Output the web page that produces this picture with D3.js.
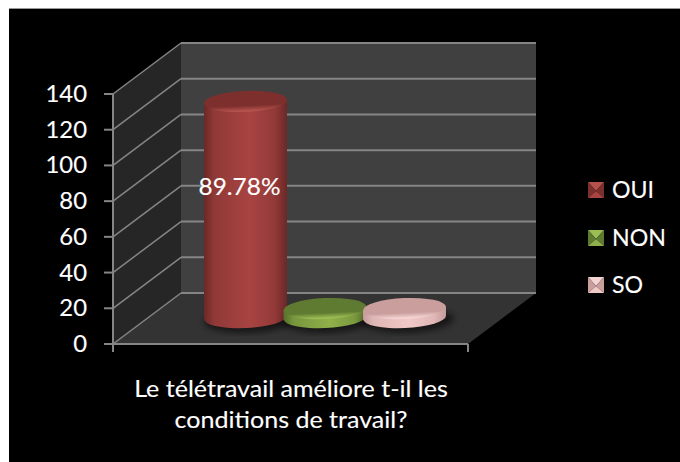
<!DOCTYPE html>
<html><head><meta charset="utf-8">
<style>html,body{margin:0;padding:0;background:#fff}svg{display:block}text{font-family:Lato,"Open Sans",sans-serif;fill:#fff;stroke:#fff;stroke-width:.12}</style>
<script src="https://cdn.jsdelivr.net/npm/d3@7"></script>
</head><body><svg id="c" width="680" height="462"></svg>
<script>
const categories = ["OUI", "NON", "SO"];
const values = [121, 5, 5];
const yTicks = [0, 20, 40, 60, 80, 100, 120, 140];
const barLabel = "89.78%";
const titleLines = ["Le télétravail améliore t-il les", "conditions de travail?"];
const palette = {OUI:{dark:"#6b2826",mid:"#a84442",top:"#7d2f2d",rim:"#b5524e"},
                 NON:{dark:"#55702a",mid:"#8fb04a",top:"#5f7a31",rim:"#9cbd55"},
                 SO:{dark:"#c49a9a",mid:"#f0c8c6",top:"#c99e9c",rim:"#f4d4d2"}};
const legendY = {OUI:190, NON:238, SO:285};

const svg = d3.select("#c");
const defs = svg.append("defs");
const label = (tx,ty,str,size,sx,anchor)=>svg.append("text")
  .attr("transform",`translate(${tx},${ty}) scale(${sx},1)`)
  .attr("text-anchor",anchor).attr("font-size",size).text(str);

svg.append("rect").attr("x",9).attr("y",8).attr("width",671).attr("height",454).attr("fill","#000");
svg.append("line").attr("x1",9).attr("x2",680).attr("y1",8.5).attr("y2",8.5).attr("stroke","#999");

const y = d3.scaleLinear().domain([0,140]).range([344,94]);
const front = d3.scaleLinear().domain([0,1]).range([113,468]);
const dx = 68, dy = -51;
const L = front(0), R = front(1), B = y(0), T = y(140);
const poly = (pts,fill)=>svg.append("polygon").attr("points",pts.map(p=>p.join(",")).join(" ")).attr("fill",fill);
poly([[L+dx,T+dy],[R+dx,T+dy],[R+dx,B+dy],[L+dx,B+dy]],"#404040");
poly([[L,T],[L+dx,T+dy],[L+dx,B+dy],[L,B]],"#262626");
poly([[L,B],[L+dx,B+dy],[R+dx,B+dy],[R,B]],"#333333");

const grid = "#858585";
yTicks.forEach(t=>{
  const v=y(t);
  svg.append("line").attr("stroke",grid).attr("stroke-width",1.5).attr("x1",L).attr("y1",v).attr("x2",L+dx).attr("y2",v+dy);
  svg.append("line").attr("stroke",grid).attr("stroke-width",2).attr("x1",L+dx).attr("y1",v+dy).attr("x2",R+dx).attr("y2",v+dy);
  svg.append("line").attr("x1",L-9).attr("x2",L).attr("y1",v).attr("y2",v).attr("stroke",grid).attr("stroke-width",2);
  label(87,v+8,t,22.5,1.06,"end");
});
svg.append("line").attr("x1",L).attr("x2",L).attr("y1",T).attr("y2",B+8).attr("stroke",grid).attr("stroke-width",2);
svg.append("line").attr("x1",L).attr("x2",R).attr("y1",B).attr("y2",B).attr("stroke",grid).attr("stroke-width",2);
svg.append("line").attr("x1",R).attr("x2",R).attr("y1",B).attr("y2",B+8).attr("stroke",grid).attr("stroke-width",2);

const x = d3.scalePoint().domain(categories).range([245.5,404.5]);
const rx = 41.5, ry = 10.5, baseY = 317.5, tilt = -2.5;
const h = d3.scaleLinear().domain([0,140]).range([0,250]);
defs.append("filter").attr("id","sh").append("feGaussianBlur").attr("stdDeviation",3);
categories.forEach((c,i)=>{
  const p = palette[c], cx = x(c), ht = h(values[i]), topY = baseY-ht;
  const g = defs.append("linearGradient").attr("id","g"+i);
  [[0,p.dark],[.12,d3.interpolateRgb(p.dark,p.mid)(.6)],[.55,p.mid],[.85,d3.interpolateRgb(p.dark,p.mid)(.65)],[1,p.dark]]
    .forEach(s=>g.append("stop").attr("offset",s[0]).attr("stop-color",s[1]));
  const tg = defs.append("linearGradient").attr("id","t"+i).attr("x1",0).attr("x2",0).attr("y1",0).attr("y2",1);
  [[0,p.top],[.7,p.top],[.95,p.rim],[1,p.rim]].forEach(s=>tg.append("stop").attr("offset",s[0]).attr("stop-color",s[1]));
  svg.append("ellipse").attr("cx",cx+4).attr("cy",baseY+3).attr("rx",rx+4).attr("ry",ry+2).attr("fill","#000").attr("opacity",.55).attr("filter","url(#sh)")
    .attr("transform",`rotate(${tilt},${cx},${baseY})`);
  svg.append("ellipse").attr("cx",cx).attr("cy",baseY).attr("rx",rx).attr("ry",ry).attr("fill",`url(#g${i})`)
    .attr("transform",`rotate(${tilt},${cx},${baseY})`);
  const sl = rx*Math.sin(-tilt*Math.PI/180);
  svg.append("polygon").attr("fill",`url(#g${i})`)
    .attr("points",[[cx-rx,topY+sl],[cx+rx,topY-sl],[cx+rx,baseY-sl],[cx-rx,baseY+sl]].join(" "));
  svg.append("ellipse").attr("cx",cx).attr("cy",topY).attr("rx",rx).attr("ry",ry).attr("fill",`url(#t${i})`)
    .attr("transform",`rotate(${tilt},${cx},${topY})`);
});
label(x("OUI")-6,195,barLabel,23,1.06,"middle");

categories.forEach((c,i)=>{
  const p = palette[c], ly = legendY[c], s=16, lx=588, hs=s/2;
  const a=[lx,ly-hs],b=[lx+s,ly-hs],d=[lx+s,ly+hs],e=[lx,ly+hs],m=[lx+hs,ly+1];
  svg.append("polygon").attr("points",[a,b,m].join(" ")).attr("fill",p.rim);
  svg.append("polygon").attr("points",[a,e,m].join(" ")).attr("fill",p.top);
  svg.append("polygon").attr("points",[b,d,m].join(" ")).attr("fill",p.top);
  svg.append("polygon").attr("points",[e,d,m].join(" ")).attr("fill",p.mid);
  label(612,ly+8,c,22.5,1.03,"start");
});

titleLines.forEach((t,i)=>label(291,397+i*31,t,23,1.09,"middle"));
</script></body></html>
